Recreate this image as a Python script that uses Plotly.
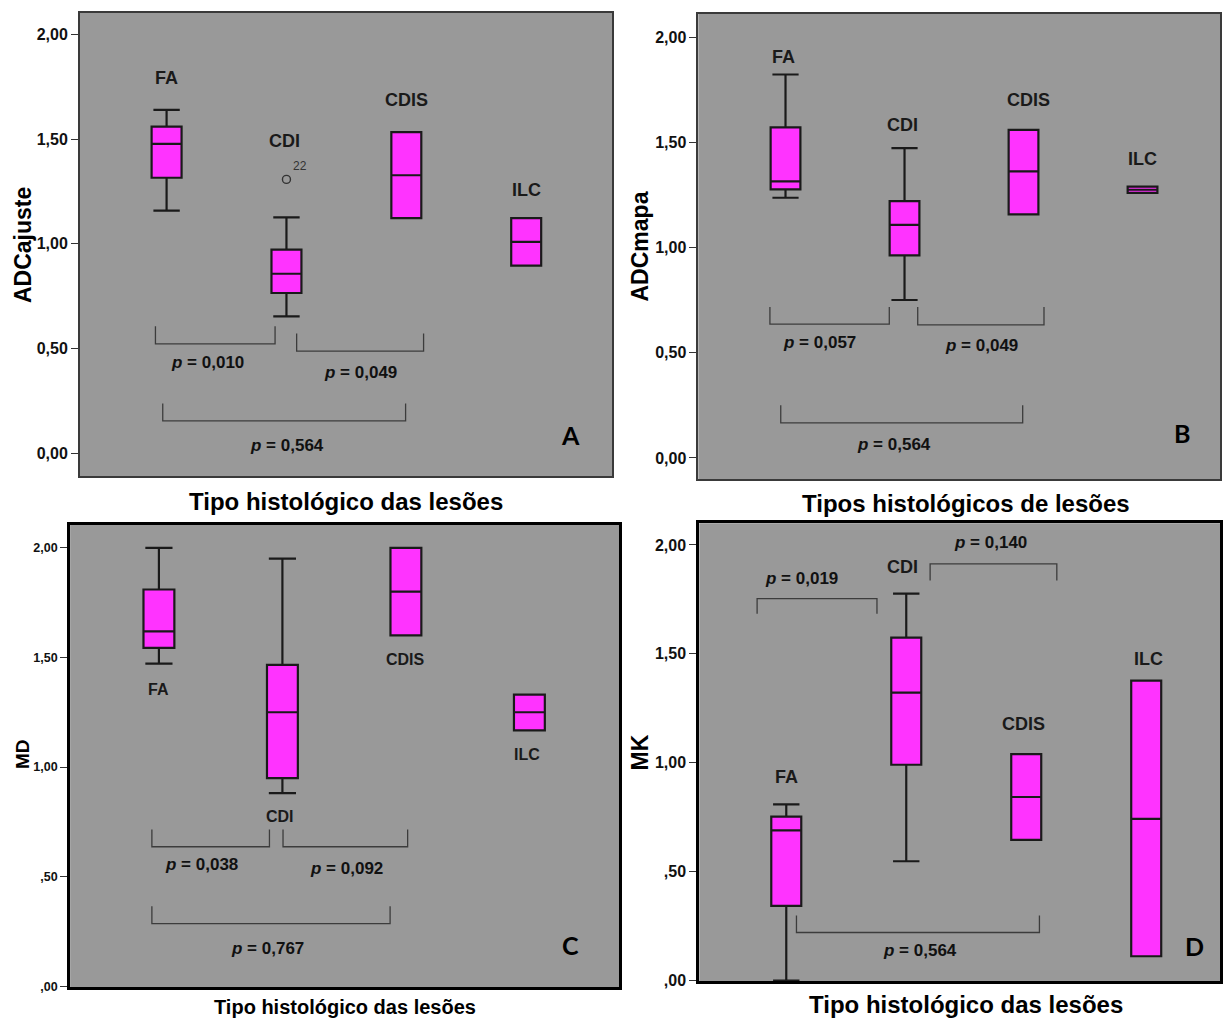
import plotly.graph_objects as go

# ---------------- data ----------------
categories = ["FA", "CDI", "CDIS", "ILC"]
cat_pos = [0, 1, 2, 3]

# Panel A - ADCajuste
a_low = [1.159, 0.653, 1.123, 0.896]
a_q1 = [1.316, 0.765, 1.123, 0.896]
a_median = [1.478, 0.857, 1.328, 1.009]
a_q3 = [1.560, 0.972, 1.534, 1.123]
a_high = [1.640, 1.127, 1.534, 1.123]
a_outlier_value = [1.308]
a_outlier_case = ["22"]

# Panel B - ADCmapa
b_low = [1.237, 0.751, 1.158, 1.260]
b_q1 = [1.277, 0.963, 1.158, 1.260]
b_median = [1.315, 1.108, 1.362, 1.275]
b_q3 = [1.572, 1.221, 1.560, 1.290]
b_high = [1.823, 1.473, 1.560, 1.290]

# Panel C - MD
c_low = [1.472, 0.881, 1.601, 1.167]
c_q1 = [1.544, 0.949, 1.601, 1.167]
c_median = [1.619, 1.250, 1.800, 1.250]
c_q3 = [1.810, 1.466, 2.000, 1.330]
c_high = [2.000, 1.951, 2.000, 1.330]

# Panel D - MK
d_low = [0.000, 0.548, 0.646, 0.112]
d_q1 = [0.343, 0.991, 0.646, 0.112]
d_median = [0.690, 1.322, 0.843, 0.743]
d_q3 = [0.753, 1.575, 1.040, 1.377]
d_high = [0.809, 1.777, 1.040, 1.377]

y_tick_vals = [0.0, 0.5, 1.0, 1.5, 2.0]
tick_text_ab = ["0,00", "0,50", "1,00", "1,50", "2,00"]
tick_text_cd = [",00", ",50", "1,00", "1,50", "2,00"]

p_text_a = ["0,010", "0,049", "0,564"]
p_text_b = ["0,057", "0,049", "0,564"]
p_text_c = ["0,038", "0,092", "0,767"]
p_text_d = ["0,019", "0,140", "0,564"]

y_titles = ["ADCajuste", "ADCmapa", "MD", "MK"]
x_titles = ["Tipo histológico das lesões", "Tipos histológicos de lesões",
            "Tipo histológico das lesões", "Tipo histológico das lesões"]
panel_letters = ["A", "B", "C", "D"]

# ---------------- layout helpers (positions / styles) ----------------
W, H = 1223, 1025
BG = "#999999"
MAGENTA = "#FF33FF"
BOX_LINE = "#1a1a1a"
BRACKET = "#3c3c3c"
TXT = "#111111"
FONT = "Liberation Sans, Arial, sans-serif"


def px_x(v):
    return min(1.0, v / W)


def px_y(v):
    return 1 - v / H


panels = [
    dict(stats=(a_low, a_q1, a_median, a_q3, a_high), ticks=tick_text_ab, p=p_text_a,
         xdom=[px_x(80), px_x(614)], ydom=[px_y(480), px_y(13)],
         xr=[-0.724, 3.72], yr=[-0.111, 2.104], border=("#3a3a3a", 1.6), tickfs=16,
         brackets=[(-0.093, 0.905, 0.606, 0.522), (1.085, 2.144, 0.572, 0.487), (-0.032, 1.994, 0.237, 0.154)],
         ppos=[(0.34, 0.435), (1.62, 0.387), (1.006, 0.035)],
         lpos=[(0.0, 1.791), (0.98, 1.494), (2.0, 1.687), (3.0, 1.257)], lfs=18,
         letter=(3.37, 0.088), ytitle=(23, 247, 23), xtitle=(347, 505, 24)),
    dict(stats=(b_low, b_q1, b_median, b_q3, b_high), ticks=tick_text_ab, p=p_text_b,
         xdom=[px_x(700), 1.0], ydom=[px_y(483), px_y(14)],
         xr=[-0.733, 3.651], yr=[-0.101, 2.111], border=("#3a3a3a", 1.6), tickfs=16,
         brackets=[(-0.131, 0.872, 0.718, 0.636), (1.111, 2.172, 0.718, 0.633), (-0.04, 1.993, 0.251, 0.167)],
         ppos=[(0.289, 0.550), (1.65, 0.534), (0.913, 0.062)],
         lpos=[(-0.02, 1.907), (0.98, 1.583), (2.04, 1.700), (3.0, 1.422)], lfs=18,
         letter=(3.33, 0.117), ytitle=(642, 248, 23), xtitle=(968, 507, 24)),
    dict(stats=(c_low, c_q1, c_median, c_q3, c_high), ticks=tick_text_cd, p=p_text_c,
         xdom=[px_x(70.3), px_x(620.7)], ydom=[px_y(995), px_y(529)],
         xr=[-0.719, 3.727], yr=[-0.005, 2.105], border=("#000000", 3), tickfs=12.5,
         brackets=[(-0.057, 0.895, 0.715, 0.636), (1.005, 2.014, 0.715, 0.636), (-0.057, 1.872, 0.365, 0.285)],
         ppos=[(0.345, 0.554), (1.515, 0.535), (0.878, 0.173)],
         lpos=[(0.0, 1.356), (0.98, 0.776), (2.0, 1.491), (2.98, 1.059)], lfs=16,
         letter=(3.33, 0.188), ytitle=(22, 760, 19), xtitle=(346, 1015, 20)),
    dict(stats=(d_low, d_q1, d_median, d_q3, d_high), ticks=tick_text_cd, p=p_text_d,
         xdom=[px_x(701), 1.0], ydom=[px_y(989), px_y(527.3)],
         xr=[-0.725, 3.615], yr=[-0.003, 2.1], border=("#000000", 3), tickfs=16,
         brackets=[(-0.243, 0.756, 1.684, 1.754), (1.199, 2.255, 1.837, 1.913), (0.085, 2.11, 0.299, 0.221)],
         ppos=[(0.127, 1.848), (1.70, 2.012), (1.116, 0.140)],
         lpos=[(0.0, 0.935), (0.97, 1.898), (1.98, 1.180), (3.02, 1.476)], lfs=18,
         letter=(3.40, 0.159), ytitle=(642, 758, 23), xtitle=(968, 1012, 24)),
]

fig = go.Figure()
annotations = []
layout_axes = {}

for i, pnl in enumerate(panels):
    n = "" if i == 0 else str(i + 1)
    xa, ya = "x" + n, "y" + n
    low, q1, med, q3, high = pnl["stats"]

    # bracket lines
    bx, by = [], []
    for (x0, x1, ytip, ybar) in pnl["brackets"]:
        bx += [x0, x0, x1, x1, None]
        by += [ytip, ybar, ybar, ytip, None]
    fig.add_trace(go.Scatter(x=bx, y=by, mode="lines", xaxis=xa, yaxis=ya,
                             line=dict(color=BRACKET, width=1.3), hoverinfo="skip",
                             showlegend=False))

    fig.add_trace(go.Box(x=cat_pos, q1=q1, median=med, q3=q3, lowerfence=low,
                         upperfence=high, xaxis=xa, yaxis=ya, width=0.25,
                         whiskerwidth=0.88, fillcolor=MAGENTA,
                         line=dict(color=BOX_LINE, width=2.2), boxpoints=False,
                         hoverinfo="skip", showlegend=False))

    if i == 0:
        fig.add_trace(go.Scatter(x=[cat_pos[1]], y=a_outlier_value, mode="markers",
                                 xaxis=xa, yaxis=ya,
                                 marker=dict(symbol="circle-open", size=8,
                                             color="#333333", line=dict(width=1.4)),
                                 hoverinfo="skip", showlegend=False))
        annotations.append(dict(x=cat_pos[1] + 0.11, y=a_outlier_value[0] + 0.062,
                                xref=xa, yref=ya, text=a_outlier_case[0],
                                showarrow=False, font=dict(family=FONT, size=12, color="#333333")))

    # category labels
    for lab, (lx, ly) in zip(categories, pnl["lpos"]):
        annotations.append(dict(x=lx, y=ly, xref=xa, yref=ya, text="<b>" + lab + "</b>",
                                showarrow=False,
                                font=dict(family=FONT, size=pnl["lfs"], color="#1a1a1a")))
    # p values
    for pv, (tx, ty) in zip(pnl["p"], pnl["ppos"]):
        annotations.append(dict(x=tx, y=ty, xref=xa, yref=ya,
                                text="<b><i>p</i> = " + pv + "</b>", showarrow=False,
                                font=dict(family=FONT, size=17, color=TXT)))
    # panel letter
    annotations.append(dict(x=pnl["letter"][0], y=pnl["letter"][1], xref=xa, yref=ya,
                            text="<b>" + panel_letters[i] + "</b>", showarrow=False,
                            font=dict(family="Lato, Open Sans, sans-serif", size=25, color="#000000")))
    # axis titles
    tx, ty, tfs = pnl["ytitle"]
    annotations.append(dict(x=px_x(tx), y=px_y(ty), xref="paper", yref="paper",
                            text="<b>" + y_titles[i] + "</b>", textangle=-90,
                            showarrow=False, xanchor="center", yanchor="middle",
                            font=dict(family=FONT, size=tfs, color="#000000")))
    tx, ty, tfs = pnl["xtitle"]
    annotations.append(dict(x=px_x(tx), y=px_y(ty), xref="paper", yref="paper",
                            text="<b>" + x_titles[i] + "</b>",
                            showarrow=False, xanchor="center", yanchor="middle",
                            font=dict(family=FONT, size=tfs, color="#000000")))

    bc, bw = pnl["border"]
    layout_axes["xaxis" + n] = dict(domain=pnl["xdom"], range=pnl["xr"], anchor=ya,
                                    showticklabels=False, ticks="", showgrid=False,
                                    zeroline=False, showline=True, linecolor=bc,
                                    linewidth=bw, mirror=True, fixedrange=True)
    layout_axes["yaxis" + n] = dict(domain=pnl["ydom"], range=pnl["yr"], anchor=xa,
                                    tickvals=y_tick_vals, ticktext=pnl["ticks"],
                                    ticks="outside", ticklen=7, tickwidth=1.4,
                                    tickcolor="#333333", showgrid=False, zeroline=False,
                                    showline=True, linecolor=bc, linewidth=bw, mirror=True,
                                    tickfont=dict(family=FONT, size=pnl["tickfs"],
                                                  color="#111111", weight="bold"),
                                    fixedrange=True)

fig.update_layout(width=W, height=H, margin=dict(l=0, r=0, t=0, b=0),
                  paper_bgcolor="#ffffff", plot_bgcolor=BG, showlegend=False,
                  annotations=annotations, boxmode="overlay", **layout_axes)

page_css = (
    "var de=document.documentElement, b=document.body;"
    "de.style.margin='0'; de.style.padding='0'; de.style.overflow='hidden';"
    "b.style.margin='0'; b.style.padding='0'; b.style.overflow='hidden';"
    "var gd=document.getElementsByClassName('plotly-graph-div')[0];"
    "if (gd && gd.parentElement) {gd.parentElement.style.lineHeight='0';"
    "gd.parentElement.style.fontSize='0'; gd.style.display='block';}"
)

fig.write_html("out.html", config={"displayModeBar": False}, post_script=page_css)
